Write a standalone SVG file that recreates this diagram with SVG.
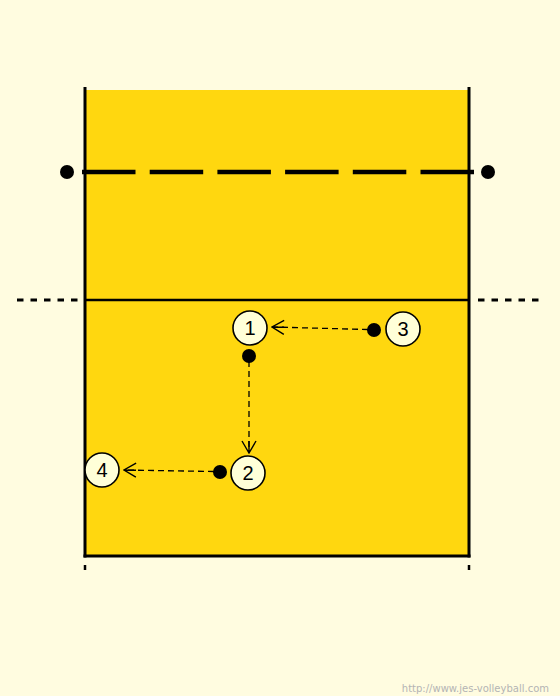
<svg xmlns="http://www.w3.org/2000/svg" width="560" height="696" viewBox="0 0 560 696">
<style>
.line{stroke:#000;fill:none}
.player circle{fill:#FFFFD8;stroke:#000;stroke-width:1.6}
.player text{font-family:"Liberation Sans",Arial,sans-serif;font-size:20px;fill:#000;text-anchor:middle}
.dot{fill:#000}
.move{stroke:#000;stroke-width:1.3;stroke-dasharray:6 4;fill:none;marker-end:url(#arr)}
</style>
<defs>
<marker id="arr" viewBox="0 0 14 16" refX="13" refY="8" markerWidth="14" markerHeight="16" markerUnits="userSpaceOnUse" orient="auto">
<path d="M1,1 L13,8 L1,15 M1,8 L13,8" fill="none" stroke="#000" stroke-width="1.4" stroke-dasharray="none"/>
</marker>
</defs>
<rect x="0" y="0" width="560" height="696" fill="#FFFCE0"/>
<g id="court">
<rect x="85" y="90" width="384" height="466" fill="#FFD70F"/>
<line class="line" x1="85" y1="87" x2="85" y2="557.5" stroke-width="3"/>
<line class="line" x1="469" y1="87" x2="469" y2="557.5" stroke-width="3"/>
<line class="line" x1="83.5" y1="556" x2="470.5" y2="556" stroke-width="3"/>
<line class="line" x1="85" y1="565" x2="85" y2="570" stroke-width="2.5"/>
<line class="line" x1="469" y1="565" x2="469" y2="570" stroke-width="2.5"/>
<line class="line" x1="85" y1="300" x2="469" y2="300" stroke-width="2.5"/>
<line class="line" x1="17" y1="300" x2="80" y2="300" stroke-width="3" stroke-dasharray="6.5 7"/>
<line class="line" x1="478" y1="300" x2="541" y2="300" stroke-width="3" stroke-dasharray="6.5 7"/>
<line class="line" x1="82" y1="172" x2="474" y2="172" stroke-width="4.5" stroke-dasharray="53.5 14.2"/>
<circle class="dot" cx="67" cy="172" r="7"/>
<circle class="dot" cx="488" cy="172" r="7"/>
</g>
<g id="connectors">
<line class="move" x1="368" y1="329.5" x2="272" y2="327"/>
<line class="move" x1="249" y1="361" x2="249" y2="453"/>
<line class="move" x1="214" y1="471.5" x2="124" y2="470"/>
<circle class="dot" cx="374" cy="330" r="7"/>
<circle class="dot" cx="249" cy="356" r="7"/>
<circle class="dot" cx="220" cy="472" r="7"/>
</g>
<g id="p1" class="player"><circle cx="250" cy="328" r="17"/><text x="250" y="335">1</text></g>
<g id="p3" class="player"><circle cx="403" cy="329" r="17"/><text x="403" y="336">3</text></g>
<g id="p2" class="player"><circle cx="248" cy="473" r="17"/><text x="248" y="480">2</text></g>
<g id="p4" class="player"><circle cx="102" cy="470" r="17"/><text x="102" y="477">4</text></g>
<text x="549" y="692" font-family="DejaVu Sans,Verdana,sans-serif" font-size="10" fill="#B4B4B4" text-anchor="end">http://www.jes-volleyball.com</text>
</svg>
